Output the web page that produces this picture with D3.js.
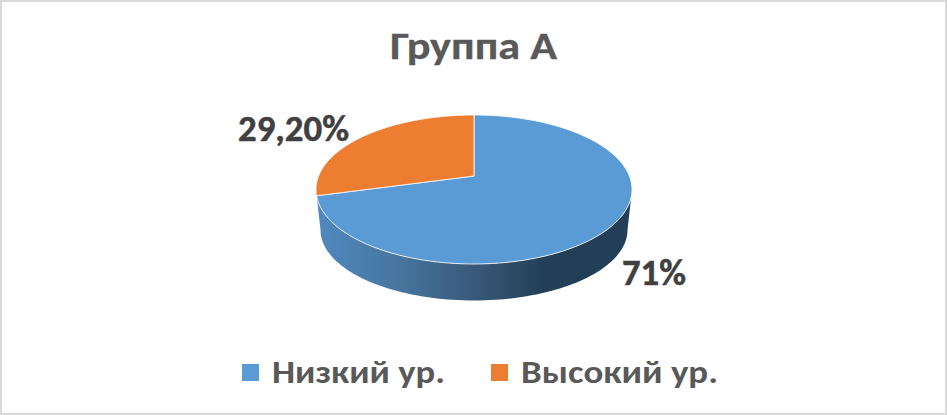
<!DOCTYPE html>
<html><head><meta charset="utf-8">
<script src="https://cdn.jsdelivr.net/npm/d3@7"></script>
<style>html,body{margin:0;padding:0;background:#fff}svg{display:block}</style></head>
<body><div id="c"></div>
<script>
const categories = ["Низкий ур.", "Высокий ур."];
const values = [71, 29.2];
const valueLabels = ["71%", "29,20%"];
const colors = ["#5B9BD5", "#ED7D31"];
const chartTitle = "Группа А";

const W = 947, H = 415;
const font = "Carlito, Calibri, Lato, 'Open Sans', sans-serif";
const svg = d3.select("#c").append("svg").attr("width", W).attr("height", H);
svg.append("rect").attr("x", 1).attr("y", 1).attr("width", W - 2).attr("height", H - 2)
  .attr("fill", "#fff").attr("stroke", "#d9d9d9").attr("stroke-width", 2);

const defs = svg.append("defs");
const grad = defs.append("linearGradient").attr("id", "wall")
  .attr("gradientUnits", "userSpaceOnUse").attr("x1", 317).attr("x2", 632).attr("y1", 0).attr("y2", 0);
[[0, "#5088BF"], [.25, "#47779F"], [.5, "#38597A"], [.72, "#233F57"], [1, "#233F57"]]
  .forEach(([o, c]) => grad.append("stop").attr("offset", o).attr("stop-color", c));

const topE = {cx: 474, cy: 189.5, rx: 158, ry: 74.5, ax: 474, ay: 176};
const botE = {cx: 474, cy: 230, rx: 153.5, ry: 70.5};
const pie = d3.pie().sort(null).value(d => d);
const arcs = pie(values);

// perspective: rays from the apex, in squashed-circle directions, meet the rim
function rim(t) {
  const dx = Math.sin(t) * topE.rx, dy = -Math.cos(t) * topE.ry;
  const ox = (topE.ax - topE.cx) / topE.rx, oy = (topE.ay - topE.cy) / topE.ry;
  const ux = dx / topE.rx, uy = dy / topE.ry;
  const a = ux * ux + uy * uy, b = 2 * (ox * ux + oy * uy), c = ox * ox + oy * oy - 1;
  const s = (-b + Math.sqrt(b * b - 4 * a * c)) / (2 * a);
  return [topE.ax + dx * s, topE.ay + dy * s];
}
const line = d3.line();
const ell = (e, t) => [e.cx + Math.sin(t) * e.rx, e.cy - Math.cos(t) * e.ry];

// wall: visible lower half of the rim
const wallAngles = d3.range(90, 271, 2).map(d => d * Math.PI / 180);
const wallPts = wallAngles.map(t => ell(topE, t)).concat(wallAngles.slice().reverse().map(t => ell(botE, t)));
svg.append("path").attr("d", line(wallPts) + "Z").attr("fill", "url(#wall)");

// top slices
svg.selectAll("path.slice").data(arcs).join("path").attr("class", "slice")
  .attr("d", d => {
    const n = 120, pts = [[topE.ax, topE.ay]];
    for (let i = 0; i <= n; i++) pts.push(rim(d.startAngle + (d.endAngle - d.startAngle) * i / n));
    return line(pts) + "Z";
  })
  .attr("fill", (d, i) => colors[i])
  .attr("stroke", "#fff").attr("stroke-opacity", .8).attr("stroke-width", 1).attr("stroke-linejoin", "round");

// title
svg.append("text").attr("x", 390).attr("y", 59)
  .attr("textLength", 167).attr("lengthAdjust", "spacingAndGlyphs")
  .attr("font-family", font).attr("font-weight", 700).attr("font-size", 39).attr("fill", "#595959")
  .attr("stroke", "#595959").attr("stroke-width", .3).text(chartTitle);

// data labels
const labelPos = [[622, 285, 64], [238, 141, 111]];
svg.selectAll("text.dl").data(valueLabels).join("text").attr("class", "dl")
  .attr("x", (d, i) => labelPos[i][0]).attr("y", (d, i) => labelPos[i][1])
  .attr("textLength", (d, i) => labelPos[i][2]).attr("lengthAdjust", "spacingAndGlyphs")
  .attr("font-family", font).attr("font-weight", 700).attr("font-size", 35.5).attr("fill", "#404040")
  .attr("stroke", "#404040").attr("stroke-width", .5).text(d => d);

// legend
const lx = [242, 491], tx = [272, 521], tw = [173, 197];
categories.forEach((c, i) => {
  svg.append("rect").attr("x", lx[i]).attr("y", 364).attr("width", 17).attr("height", 17).attr("fill", colors[i]);
  svg.append("text").attr("x", tx[i]).attr("y", 383).attr("font-family", font).attr("font-weight", 700)
    .attr("textLength", tw[i]).attr("lengthAdjust", "spacingAndGlyphs")
    .attr("font-size", 32).attr("fill", "#595959").text(c);
});
</script></body></html>
